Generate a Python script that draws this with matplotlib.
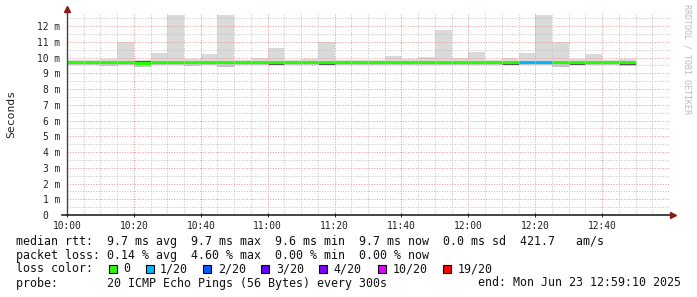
# smokeping style latency graph (median rtt + smoke), rebuilt with matplotlib
import matplotlib
matplotlib.use("Agg")
import matplotlib.pyplot as plt
from matplotlib.patches import Rectangle
from matplotlib.ticker import MultipleLocator, FixedLocator

# 5 minute bins, start times
bin_start = ["10:00", "10:05", "10:10", "10:15", "10:20", "10:25", "10:30", "10:35",
             "10:40", "10:45", "10:50", "10:55", "11:00", "11:05", "11:10", "11:15",
             "11:20", "11:25", "11:30", "11:35", "11:40", "11:45", "11:50", "11:55",
             "12:00", "12:05", "12:10", "12:15", "12:20", "12:25", "12:30", "12:35",
             "12:40", "12:45"]
# smoke top / bottom and median rtt (ms)
rtt_max = [9.82, 9.82, 9.90, 11.00, 9.85, 10.30, 12.70, 9.90, 10.22, 12.70,
           9.85, 9.98, 10.63, 9.84, 9.90, 10.99, 9.86, 9.86, 9.86, 10.11,
           9.88, 10.02, 11.75, 9.95, 10.37, 9.82, 9.99, 10.30, 12.70, 10.99,
           9.92, 10.22, 9.83, 9.90]
rtt_min = [9.50, 9.50, 9.49, 9.50, 9.42, 9.50, 9.52, 9.49, 9.50, 9.42,
           9.50, 9.50, 9.50, 9.50, 9.50, 9.50, 9.50, 9.50, 9.50, 9.50,
           9.50, 9.50, 9.50, 9.50, 9.50, 9.50, 9.50, 9.50, 9.50, 9.42,
           9.50, 9.50, 9.50, 9.46]
rtt_median = [9.69, 9.69, 9.69, 9.69, 9.65, 9.69, 9.69, 9.69, 9.69, 9.69,
              9.69, 9.69, 9.69, 9.69, 9.69, 9.69, 9.69, 9.69, 9.69, 9.69,
              9.69, 9.69, 9.69, 9.69, 9.69, 9.69, 9.69, 9.69, 9.69, 9.69,
              9.69, 9.69, 9.69, 9.69]
loss = [0, 0, 0, 0, 0, 0, 0, 0, 0, 0, 0, 0, 0, 0, 0, 0, 0,
        0, 0, 0, 0, 0, 0, 0, 0, 0, 0, 1, 1, 0, 0, 0, 0, 0]
# darkest smoke sliver visible next to the median line
dark_sliver = {4: 9.77, 12: 9.60, 15: 9.60, 26: 9.60, 30: 9.58, 33: 9.60}

loss_labels = ["0", "1/20", "2/20", "3/20", "4/20", "10/20", "19/20"]
loss_colors = ["#26ff00", "#00b8ff", "#0059ff", "#5e00ff", "#7e00ff", "#dd00ff", "#ff0000"]
xtick_labels = ["10:00", "10:20", "10:40", "11:00", "11:20", "11:40", "12:00", "12:20", "12:40"]
ytick_labels = ["0  "] + ["%d m" % i for i in range(1, 13)]

W, H = 697, 297
mono = "DejaVu Sans Mono"

def minutes(s):
    h, m = s.split(":")
    return (int(h) - 10) * 60 + int(m)

def fx(x):
    return x / W

def fy(y):
    return 1 - y / H

x0 = [minutes(s) for s in bin_start]

fig = plt.figure(figsize=(W / 100, H / 100), dpi=100)
ax = fig.add_axes([fx(67), fy(215), (669 - 67) / W, (215 - 13) / H])

# smoke
ax.bar(x0, [a - b for a, b in zip(rtt_max, rtt_min)], bottom=rtt_min, width=5,
       align="edge", color="#dadada", lw=0, zorder=1)
ax.bar(x0, [m + 0.1 - b for m, b in zip(rtt_median, rtt_min)], bottom=rtt_min, width=5,
       align="edge", color="#c6c6c6", lw=0, zorder=1.1)
for i, v in dark_sliver.items():
    ax.hlines(v, x0[i], x0[i] + 5, colors="#55505f", lw=0.7, zorder=1.5)
# median line coloured by loss
ax.hlines(rtt_median, x0, [x + 5 for x in x0], colors=[loss_colors[l] for l in loss],
          lw=2.2, zorder=2)

ax.set_xlim(0, 180)
ax.set_ylim(0, 12.83)
ax.xaxis.set_major_locator(FixedLocator([minutes(s) for s in xtick_labels]))
ax.set_xticklabels(xtick_labels)
ax.xaxis.set_minor_locator(MultipleLocator(5))
ax.yaxis.set_major_locator(FixedLocator(range(13)))
ax.set_yticklabels(ytick_labels)
ax.yaxis.set_minor_locator(MultipleLocator(0.5))

dots = (0, (1, 1.6))
ax.grid(which="minor", color="#c4c4c4", ls=dots, lw=0.72)
ax.grid(which="major", color="#e59a9a", ls=dots, lw=0.72)
ax.set_axisbelow(False)

for s in ax.spines.values():
    s.set_visible(False)
ax.tick_params(axis="x", which="major", length=3, width=0.72, direction="inout",
               color="#333333", pad=3, labelsize=6.9, labelcolor="#222222")
ax.tick_params(axis="x", which="minor", length=0)
ax.tick_params(axis="y", which="both", length=0, pad=4.8, labelsize=6.9, labelcolor="#222222")
for lab in ax.get_xticklabels() + ax.get_yticklabels():
    lab.set_family(mono)

# axis lines with arrow heads
ax.plot([0, 0], [0, 1.03], transform=ax.transAxes, color="#444444", lw=1.0,
        clip_on=False, zorder=5)
ax.plot([-0.008, 1.005], [0, 0], transform=ax.transAxes, color="#111111", lw=1.1,
        clip_on=False, zorder=5)
ax.plot([0], [1.02], marker="^", ms=4, color="#8b1a1a", transform=ax.transAxes,
        clip_on=False, zorder=6)
ax.plot([1.007], [0], marker=">", ms=4, color="#8b1a1a", transform=ax.transAxes,
        clip_on=False, zorder=6)

fig.text(fx(11), fy(114), "Seconds", rotation=90, ha="center", va="center",
         family=mono, size=8.2, color="#222222")
fig.text(fx(687), fy(4), "RRDTOOL / TOBI OETIKER", rotation=-90, ha="center", va="top",
         family=mono, size=6.0, color="#bbbbbb")

tsize = 8.4
fig.text(fx(16), fy(241), "median rtt:  9.7 ms avg  9.7 ms max  9.6 ms min  9.7 ms now  0.0 ms sd  421.7   am/s",
         family=mono, size=tsize, va="center", color="#111111")
fig.text(fx(16), fy(255), "packet loss: 0.14 % avg  4.60 % max  0.00 % min  0.00 % now",
         family=mono, size=tsize, va="center", color="#111111")
fig.text(fx(16), fy(269), "loss color:", family=mono, size=tsize, va="center", color="#111111")
sq_x = [108.7, 145.7, 203.3, 261.0, 318.7, 378.0, 442.7]
lab_x = [123.3, 160.0, 217.7, 276.0, 333.3, 392.7, 457.3]
for lbl, col, sx, tx in zip(loss_labels, loss_colors, sq_x, lab_x):
    fig.add_artist(Rectangle((fx(sx), fy(273)), 8 / W, 8 / H, transform=fig.transFigure,
                             fc=col, ec="black", lw=0.8))
    fig.text(fx(tx), fy(269), lbl, family=mono, size=tsize, va="center", color="#111111")
fig.text(fx(16), fy(283), "probe:       20 ICMP Echo Pings (56 Bytes) every 300s",
         family=mono, size=tsize, va="center", color="#111111")
fig.text(fx(478.3), fy(283), "end: Mon Jun 23 12:59:10 2025",
         family=mono, size=tsize, va="center", color="#111111")

fig.savefig("out.png", dpi=100)
